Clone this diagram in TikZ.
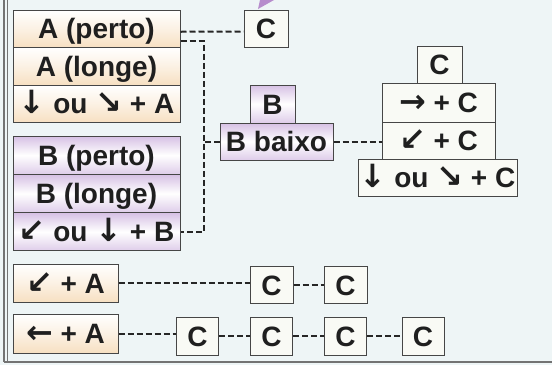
\documentclass[tikz,border=0pt]{standalone}
\usepackage{fontspec}
\setmainfont{Liberation Sans}
\newfontfamily\arrfont{DejaVu Sans}
\usepackage{tikz}

\definecolor{bgcol}{RGB}{238,245,246}
\definecolor{peach}{RGB}{247,224,194}
\definecolor{lilac}{RGB}{214,192,228}
\definecolor{cfill}{RGB}{249,250,245}
\definecolor{edge}{RGB}{70,70,70}
\definecolor{tippurple}{RGB}{182,140,204}

\newcommand{\arr}[1]{{\arrfont\fontsize{32}{30}\selectfont #1}}

\tikzset{
  box/.style={draw=edge, line width=1pt, inner sep=0pt,
    text height=23pt, text depth=3pt,
    font=\fontsize{28}{30}\selectfont\bfseries, text=black!88},
  abox/.style={box, top color=white, bottom color=peach, middle color=peach!45},
  bbox/.style={box, top color=lilac, bottom color=lilac!80, middle color=white},
  cbox/.style={box, fill=cfill},
  link/.style={draw=black!85, line width=2pt, dash pattern=on 6pt off 3pt},
  frame/.style={draw=black!55, line width=1.2pt}
}

\begin{document}
\begin{tikzpicture}[x=1pt, y=-1pt]
        \useasboundingbox (0,0) rectangle (552,365);
        \fill[bgcol] (0,0) rectangle (552,365);
        \draw[frame] (4,0) -- (4,362);
        \draw[frame] (7.5,0) -- (7.5,362) ;
        \draw[frame] (4,362) -- (552,362);

        \fill[tippurple] (258,9) -- (260,0) -- (274,0) -- cycle;

        % A column
        \node[abox, minimum width=167pt, minimum height=37.5pt] (aperto) at (96.5, 28.75) {A (perto)};
        \node[abox, minimum width=167pt, minimum height=37.5pt] (alonge) at (96.5, 66.25) {A (longe)};
        \node[abox, minimum width=167pt, minimum height=37.5pt] (aou) at (96.5, 103.75) {\arr{↓} ou \arr{↘} + A};

        % B column
        \node[bbox, minimum width=167pt, minimum height=38.3pt] (bperto) at (96.5, 155.2) {B (perto)};
        \node[bbox, minimum width=167pt, minimum height=38.3pt] (blonge) at (96.5, 193.5) {B (longe)};
        \node[bbox, minimum width=167pt, minimum height=38.3pt] (bou) at (96.5, 231.8) {\arr{↙} ou \arr{↓} + B};

        \node[cbox, minimum width=44pt, minimum height=37pt] (ctop) at (266, 28.5) {C};

        \node[bbox, minimum width=45pt, minimum height=38pt] (bcap) at (272.5, 104) {B};
        \node[bbox, minimum width=113pt, minimum height=37pt] (bbaixo) at (276.5, 141.5) {B baixo};

        % right stack
        \node[cbox, minimum width=45pt, minimum height=37pt] (ccap) at (439.5, 64.5) {C};
        \node[cbox, minimum width=113pt, minimum height=39pt] (rc) at (438.5, 102.5) {\arr{→} + C};
        \node[cbox, minimum width=113pt, minimum height=37pt] (swc) at (438.5, 140.5) {\arr{↙} + C};
        \node[cbox, minimum width=159pt, minimum height=37pt] (dc) at (437.5, 177.5) {\arr{↓} ou \arr{↘} + C};

        % bottom rows
        \node[abox, minimum width=105pt, minimum height=38pt] (swa) at (65.5, 283) {\arr{↙} + A};
        \node[cbox, minimum width=43pt, minimum height=37pt] (c1a) at (271.5, 285) {C};
        \node[cbox, minimum width=43pt, minimum height=37pt] (c1b) at (345.5, 285) {C};

        \node[abox, minimum width=105pt, minimum height=39pt] (wa) at (65.5, 333.5) {\arr{←} + A};
        \node[cbox, minimum width=42pt, minimum height=38pt] (c2a) at (197.5, 336) {C};
        \node[cbox, minimum width=42pt, minimum height=38pt] (c2b) at (271.5, 336) {C};
        \node[cbox, minimum width=42pt, minimum height=38pt] (c2c) at (345.5, 336) {C};
        \node[cbox, minimum width=42pt, minimum height=38pt] (c2d) at (423, 336) {C};

        % dashed links
        \draw[link] ([yshift=-3pt]aperto.east) -- ([yshift=-3pt]ctop.west);
        \draw[link] ([yshift=-12pt]aperto.east) -- ++(23,0) coordinate (knee) |- (bou.east);
        \draw[link] (bbaixo.west) -- (bbaixo.west -| knee);
        \draw[link] (bbaixo.east) -- (bbaixo.east -| swc.west);
        \draw[link] (swa.east) -- (swa.east -| c1a.west);
        \draw[link] (c1a) -- (c1b);
        \draw[link] (wa.east) -- (wa.east -| c2a.west);
        \foreach \u/\v in {c2a/c2b, c2b/c2c, c2c/c2d}
            \draw[link] (\u) -- (\v);
\end{tikzpicture}
\end{document}
